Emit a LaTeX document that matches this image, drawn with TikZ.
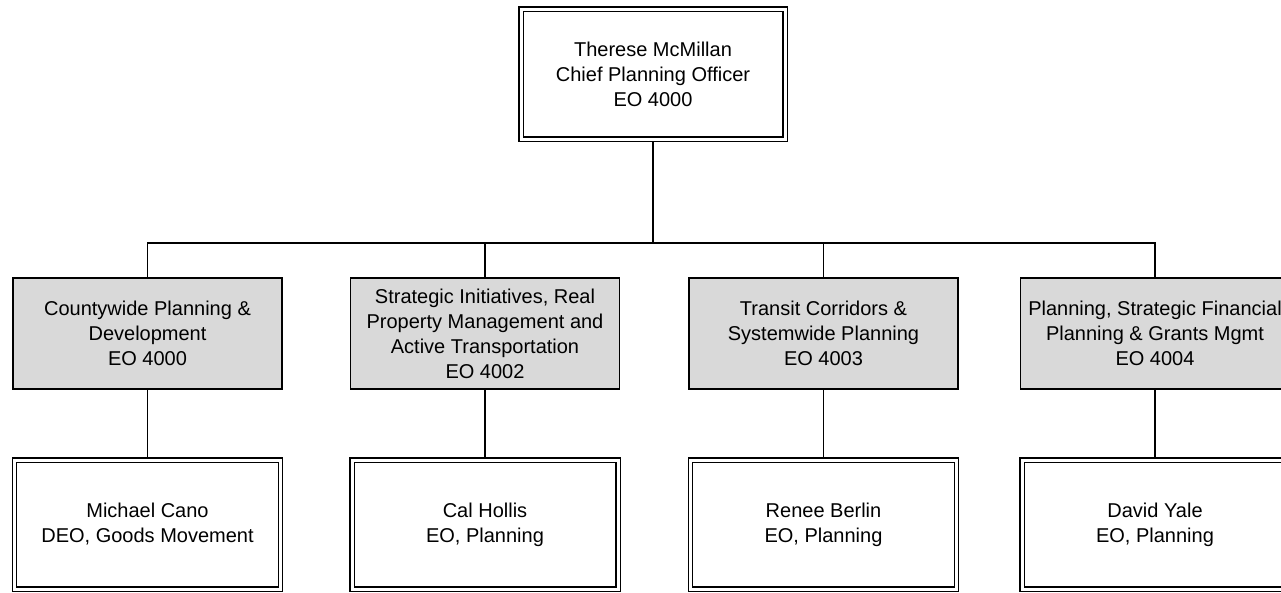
\documentclass[tikz,border=0pt]{standalone}
\usepackage{fontspec}
\setmainfont{Liberation Sans}
\definecolor{ogray}{HTML}{D9D9D9}
\tikzset{
  exec/.style={draw=black,double=white,double distance=3pt,line width=1.3pt,outer sep=2pt,align=center,font=\fontsize{20}{25}\selectfont,inner sep=0pt,minimum width=264pt,minimum height=130pt},
  unit/.style={draw=black,fill=ogray,line width=1.5pt,align=center,font=\fontsize{20}{25}\selectfont,inner sep=0pt,minimum width=269pt,minimum height=111pt},
  link/.style={line width=1.5pt,draw=black},
}
\begin{document}
\begin{tikzpicture}[x=1pt,y=-1pt]
  \useasboundingbox (0,0) rectangle (1281,592);
  \node[exec] (chief) at (653,74) {Therese McMillan\\Chief Planning Officer\\EO 4000};
  \coordinate (bus) at (653,243);
  \draw[link] (chief) -- (bus);
  \foreach \x/\u/\p [count=\ix] in {
    147.5/{Countywide Planning \&\\Development\\EO 4000}/{Michael Cano\\DEO, Goods Movement},
    485/{Strategic Initiatives, Real\\Property Management and\\Active Transportation\\EO 4002}/{Cal Hollis\\EO, Planning},
    823.5/{Transit Corridors \&\\Systemwide Planning\\EO 4003}/{Renee Berlin\\EO, Planning},
    1155/{Planning, Strategic Financial\\Planning \& Grants Mgmt\\EO 4004}/{David Yale\\EO, Planning}} {
    \node[unit] (u\ix) at (\x,333.5) {\u};
    \node[exec,minimum width=266pt,minimum height=129pt] (p\ix) at (\x,524.5) {\p};
    \draw[link] (bus) -| (u\ix);
    \draw[link] (u\ix) -- (p\ix);
  }
\end{tikzpicture}
\end{document}
